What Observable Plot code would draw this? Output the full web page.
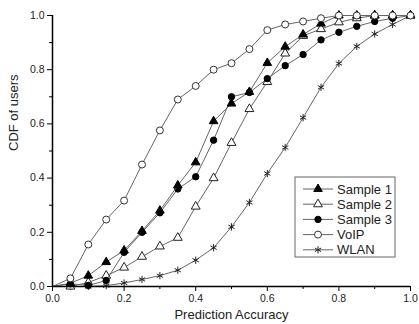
<!DOCTYPE html>
<html><head><meta charset="utf-8">
<script src="https://cdn.jsdelivr.net/npm/d3@7"></script>
<script src="https://cdn.jsdelivr.net/npm/@observablehq/plot@0.6"></script>
<style>body{margin:0;background:#fff} #chart{width:419px;height:324px}</style>
</head><body><div id="chart"></div>
<script>
const accuracy = [0,0.05,0.1,0.15,0.2,0.25,0.3,0.35,0.4,0.45,0.5,0.55,0.6,0.65,0.7,0.75,0.8,0.85,0.9,0.95,1.0];
const sample1 = [0,0.012,0.04,0.09,0.133,0.205,0.28,0.373,0.458,0.61,0.675,0.718,0.825,0.885,0.93,0.97,1,1,1,1,1];
const sample2 = [0,0,0.015,0.04,0.07,0.11,0.148,0.18,0.295,0.40,0.53,0.655,0.755,0.86,0.925,0.95,0.975,0.99,1,1,1];
const sample3 = [0,0.01,0.004,0.022,0.126,0.2,0.272,0.36,0.405,0.54,0.70,0.716,0.767,0.815,0.856,0.91,0.938,0.96,0.978,0.99,1];
const voip    = [0,0.03,0.155,0.247,0.317,0.45,0.576,0.69,0.74,0.80,0.824,0.876,0.946,0.967,0.978,0.99,1,1,1,1,1];
const wlan    = [0,0,0,0.003,0.013,0.026,0.04,0.06,0.097,0.143,0.22,0.31,0.417,0.513,0.623,0.735,0.823,0.886,0.932,0.967,1];
const seriesNames = ["Sample 1","Sample 2","Sample 3","VoIP","WLAN"];
const seriesValues = [sample1, sample2, sample3, voip, wlan];
const majorTicks = [0,0.2,0.4,0.6,0.8,1.0];
const minorTicks = [0.1,0.3,0.5,0.7,0.9];
const xTitle = "Prediction Accuracy";
const yTitle = "CDF of users";

const markerStyle = {
  "Sample 1": {symbol:"triangle", fill:"black", stroke:"black", r:3.2},
  "Sample 2": {symbol:"triangle", fill:"white", stroke:"#222", r:3.3},
  "Sample 3": {symbol:"circle", fill:"black", stroke:"black", r:3.2},
  "VoIP":     {symbol:"circle", fill:"white", stroke:"#333", r:3.5},
  "WLAN":     {symbol:"asterisk", fill:"none", stroke:"#222", r:3.4}
};
const lineColor = "#666";

const rows = seriesNames.flatMap((name, i) => accuracy.map((x, j) => ({series: name, x, y: seriesValues[i][j]})));
const drawOrder = ["WLAN","Sample 2","Sample 3","Sample 1","VoIP"];

const marks = [
  Plot.axisX({ticks: majorTicks, tickFormat: d3.format(".1f"), tickSize: 5, tickPadding: 3, fontSize: 10.5, label: null, stroke: "black", color: "#222"}),
  Plot.axisX({ticks: minorTicks, tickFormat: () => "", tickSize: 3, label: null, stroke: "black"}),
  Plot.axisY({ticks: majorTicks, tickFormat: d3.format(".1f"), tickSize: 5, tickPadding: 3, fontSize: 10.5, label: null, stroke: "black", color: "#222"}),
  Plot.axisY({ticks: minorTicks, tickFormat: () => "", tickSize: 3, label: null, stroke: "black"}),
  Plot.text([xTitle], {frameAnchor: "bottom", dy: 32, fontSize: 13, fill: "#222"}),
  Plot.text([yTitle], {frameAnchor: "left", rotate: -90, dx: -39, fontSize: 13, fill: "#222"})
];
for (const name of drawOrder) {
  const d = rows.filter(r => r.series === name);
  const s = markerStyle[name];
  marks.push(Plot.line(d, {x: "x", y: "y", stroke: lineColor, strokeWidth: 1}));
  marks.push(Plot.dot(d.filter(r => r.x > 0), {x: "x", y: "y", symbol: () => s.symbol, r: s.r, fill: s.fill, stroke: s.stroke, strokeWidth: 1}));
}
marks.push(Plot.ruleY([0], {stroke: "black", strokeWidth: 1.5}));
marks.push(Plot.ruleX([0], {stroke: "black", strokeWidth: 1.5}));

const plot = Plot.plot({
  width: 419, height: 324,
  marginLeft: 52, marginRight: 9, marginTop: 15, marginBottom: 38,
  x: {domain: [0, 1]},
  y: {domain: [0, 1]},
  symbol: {type: "identity"},
  style: {fontFamily: "'Liberation Sans', Arial, sans-serif", background: "white"},
  marks
});
document.getElementById("chart").appendChild(plot);

// legend box inside plot
const svg = d3.select(plot);
const lg = svg.append("g").attr("font-family", "'Liberation Sans', Arial, sans-serif").attr("text-anchor", "start");
const box = {x: 295, y: 177, w: 100, h: 80};
lg.append("rect").attr("x", box.x).attr("y", box.y).attr("width", box.w).attr("height", box.h)
  .attr("fill", "white").attr("stroke", "#666").attr("stroke-width", 1);
const symMap = {triangle: d3.symbolTriangle, circle: d3.symbolCircle, asterisk: d3.symbolAsterisk};
seriesNames.forEach((name, i) => {
  const s = markerStyle[name];
  const cy = box.y + 12 + i * 15.2;
  lg.append("line").attr("x1", box.x + 8).attr("x2", box.x + 38).attr("y1", cy).attr("y2", cy)
    .attr("stroke", lineColor).attr("stroke-width", 1);
  lg.append("path").attr("transform", `translate(${box.x + 23},${cy})`)
    .attr("d", d3.symbol(symMap[s.symbol], s.r * s.r * Math.PI)())
    .attr("fill", s.fill).attr("stroke", s.stroke).attr("stroke-width", 1);
  lg.append("text").attr("x", box.x + 42).attr("y", cy).attr("dy", "0.36em")
    .attr("font-size", 13).attr("fill", "#222").text(name);
});
</script>
</body></html>
